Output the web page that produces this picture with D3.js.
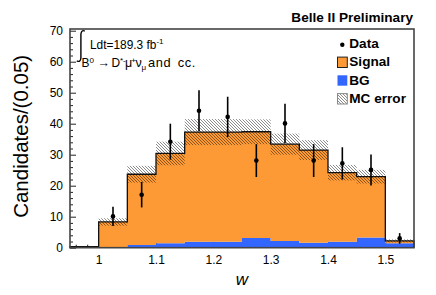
<!DOCTYPE html>
<html>
<head>
<meta charset="utf-8">
<script src="https://cdn.jsdelivr.net/npm/d3@7"></script>
<style>
  body { margin: 0; background: #fff; }
  svg { display: block; font-family: "Liberation Sans", Arial, Helvetica, sans-serif; }
</style>
</head>
<body>
<svg id="chart"></svg>
<script>
// histogram bins (lower edges) and stacked MC contributions
const binLow = [0.95, 1.00, 1.05, 1.10, 1.15, 1.20, 1.25, 1.30, 1.35, 1.40, 1.45, 1.50];
const binWidth = 0.05;
const signal = [0.0, 8.2, 22.8, 29.0, 35.4, 35.4, 34.3, 31.2, 29.9, 22.3, 19.6, 0.8];
const bg = [0.3, 0.1, 0.9, 1.4, 1.9, 1.9, 3.1, 2.2, 1.6, 1.9, 3.3, 1.4];
const mcErr = [0.1, 1.2, 2.7, 3.8, 4.2, 4.2, 4.0, 3.4, 3.2, 2.5, 2.2, 0.5];

// data points with errors
const dataX = [1.025, 1.075, 1.125, 1.175, 1.225, 1.275, 1.325, 1.375, 1.425, 1.475, 1.525];
const dataY = [10.1, 17.1, 34.2, 44.2, 42.2, 28.1, 40.1, 28.1, 27.2, 25.1, 3.0];
const dataErr = [3.1, 4.1, 5.8, 6.6, 6.5, 5.3, 6.3, 5.3, 5.2, 5.0, 1.7];

const xTicks = [1, 1.1, 1.2, 1.3, 1.4, 1.5];
const yTicks = [0, 10, 20, 30, 40, 50, 60, 70];
const legendLabels = ["Data", "Signal", "BG", "MC error"];

const size = { width: 436, height: 295 };
const frame = { left: 70, right: 414, top: 29, bottom: 247.7 };
const colors = { signal: "#fd9a36", bg: "#3366ff", frame: "#444" };

const svg = d3.select("#chart").attr("width", size.width).attr("height", size.height);

const x = d3.scaleLinear().domain([0.95, 1.55]).range([frame.left, frame.right]);
const y = d3.scaleLinear().domain([0, 70.55]).range([frame.bottom, frame.top]);

// hatch pattern for MC error
const defs = svg.append("defs");
const pat = defs.append("pattern").attr("id", "hatch")
  .attr("patternUnits", "userSpaceOnUse").attr("width", 3).attr("height", 3);
pat.append("path").attr("d", "M-1,-1 L4,4 M-1,2 L1,4 M2,-1 L4,1")
  .attr("stroke", "#000").attr("stroke-opacity", 0.5).attr("stroke-width", 0.9);

// ticks (drawn under the histograms)
const xMinor = d3.range(48, 78).map(i => i / 50).filter(v => Math.round(v * 50) % 5 !== 0);
const yMinor = d3.range(0, 71, 2).filter(v => v % 10 !== 0);

svg.append("g").attr("transform", `translate(0,${frame.bottom})`)
  .call(d3.axisBottom(x).tickValues(xTicks).tickSize(-6).tickPadding(7.3).tickFormat(d3.format("")));
svg.append("g").attr("transform", `translate(0,${frame.bottom})`)
  .call(d3.axisBottom(x).tickValues(xMinor).tickSize(-3).tickFormat(""));
svg.append("g").attr("transform", `translate(${frame.left},0)`)
  .call(d3.axisLeft(y).tickValues(yTicks).tickSize(-6).tickPadding(7));
svg.append("g").attr("transform", `translate(${frame.left},0)`)
  .call(d3.axisLeft(y).tickValues(yMinor).tickSize(-3).tickFormat(""));

svg.selectAll(".domain").remove();
svg.selectAll(".tick line").attr("stroke", "#222").attr("stroke-width", 1);
svg.selectAll(".tick text").attr("font-size", 12).attr("fill", "#000")
  .attr("font-family", "'Liberation Sans', Arial, sans-serif");

// histogram geometry
const bins = binLow.map((lo, i) => ({
  lo: lo, hi: lo + binWidth,
  bg: bg[i], tot: bg[i] + signal[i], err: mcErr[i]
}));
const stepPts = bins.flatMap(b => [{ x: b.lo, b: b }, { x: b.hi, b: b }]);

const area = (lo, hi) => d3.area()
  .x(p => x(p.x)).y0(p => y(lo(p.b))).y1(p => y(hi(p.b)));

svg.append("path").datum(stepPts).attr("fill", colors.bg)
  .attr("d", area(b => 0, b => b.bg));
svg.append("path").datum(stepPts).attr("fill", colors.signal)
  .attr("d", area(b => b.bg, b => b.tot));

// hatched error band, one rect per bin
svg.append("g").selectAll("rect").data(bins).enter().append("rect")
  .attr("x", b => x(b.lo)).attr("width", b => x(b.hi) - x(b.lo))
  .attr("y", b => y(b.tot + b.err))
  .attr("height", b => y(Math.max(0, b.tot - b.err)) - y(b.tot + b.err))
  .attr("fill", "url(#hatch)");

// outline of the stacked total
const outline = [{ x: binLow[0], v: 0 }]
  .concat(bins.flatMap(b => [{ x: b.lo, v: b.tot }, { x: b.hi, v: b.tot }]))
  .concat([{ x: bins[bins.length - 1].hi, v: 0 }]);
svg.append("path").datum(outline)
  .attr("fill", "none").attr("stroke", "#111").attr("stroke-width", 1.3)
  .attr("d", d3.line().x(p => x(p.x)).y(p => y(p.v)));

// data points
const pts = dataX.map((v, i) => ({ x: v, y: dataY[i], e: dataErr[i] }));
const pg = svg.append("g");
pg.selectAll("line").data(pts).enter().append("line")
  .attr("x1", d => x(d.x)).attr("x2", d => x(d.x))
  .attr("y1", d => y(d.y - d.e)).attr("y2", d => y(d.y + d.e))
  .attr("stroke", "#000").attr("stroke-width", 1.6);
pg.selectAll("circle").data(pts).enter().append("circle")
  .attr("cx", d => x(d.x)).attr("cy", d => y(d.y)).attr("r", 2.3).attr("fill", "#000");

// frame
svg.append("rect")
  .attr("x", frame.left).attr("y", frame.top)
  .attr("width", frame.right - frame.left).attr("height", frame.bottom - frame.top)
  .attr("fill", "none").attr("stroke", colors.frame).attr("stroke-width", 1.6);

// axis titles
svg.append("text")
  .attr("transform", `translate(28,${(frame.top + frame.bottom) / 2 - 2}) rotate(-90)`)
  .attr("text-anchor", "middle").attr("font-size", 20.5).text("Candidates/(0.05)");
svg.append("text")
  .attr("x", (frame.left + frame.right) / 2).attr("y", 285)
  .attr("text-anchor", "middle").attr("font-size", 17).attr("font-style", "italic").text("w");

svg.append("text")
  .attr("x", 413).attr("y", 22).attr("text-anchor", "end")
  .attr("font-size", 13.6).attr("font-weight", "bold").text("Belle II Preliminary");

// luminosity / decay annotation
svg.append("path")
  .attr("d", "M84.8,31.2 Q81.6,29.3 80.9,34 L80.9,58 Q80.4,62.8 76.8,60.8")
  .attr("fill", "none").attr("stroke", "#000").attr("stroke-width", 1.4);

const lumi = svg.append("text").attr("x", 90).attr("y", 48.6).attr("font-size", 11.9);
lumi.append("tspan").text("Ldt=189.3 fb");
lumi.append("tspan").attr("dy", -4.5).attr("font-size", 8).text("-1");

const decay = svg.append("text").attr("y", 67).attr("font-size", 11.9);
decay.append("tspan").attr("x", 81.5).text("B");
decay.append("tspan").attr("x", 89.6).attr("dy", -4.5).attr("font-size", 8).text("0");
decay.append("tspan").attr("x", 97.5).attr("dy", 4.5).attr("font-size", 12.5).text("\u2192");
decay.append("tspan").attr("x", 111.6).text("D");
decay.append("tspan").attr("x", 120).attr("dy", -4.5).attr("font-size", 8).text("*-");
decay.append("tspan").attr("x", 125).attr("dy", 4.5).attr("font-size", 12.5).text("\u03bc");
decay.append("tspan").attr("x", 131.2).attr("dy", -4.5).attr("font-size", 8).text("+");
decay.append("tspan").attr("x", 135.5).attr("dy", 4.5).attr("font-size", 12.5).text("\u03bd");
decay.append("tspan").attr("x", 141.5).attr("dy", 2.5).attr("font-size", 8).text("\u03bc");
decay.append("tspan").attr("x", 148).attr("dy", -2.5).attr("font-size", 12.8)
  .attr("letter-spacing", 0.6).attr("word-spacing", 2.5).text("and cc.");

// legend
const legend = svg.append("g");
const legY = [48.3, 66.4, 84.6, 102.9];
legendLabels.forEach((lab, i) => {
  const by = legY[i];
  if (i === 0) {
    legend.append("circle").attr("cx", 342.3).attr("cy", by - 3.6).attr("r", 2.2).attr("fill", "#000");
  } else {
    const box = legend.append("rect")
      .attr("x", 337.5).attr("y", by - 9.3).attr("width", 9.8).attr("height", 10.4);
    if (i === 1) box.attr("fill", colors.signal).attr("stroke", "#222").attr("stroke-width", 1);
    if (i === 2) box.attr("fill", colors.bg);
    if (i === 3) box.attr("fill", "url(#hatch)").attr("stroke", "#888").attr("stroke-width", 1);
  }
  legend.append("text").attr("x", 349.3).attr("y", by)
    .attr("font-size", 13.6).attr("font-weight", "bold").text(lab);
});
</script>
</body>
</html>
